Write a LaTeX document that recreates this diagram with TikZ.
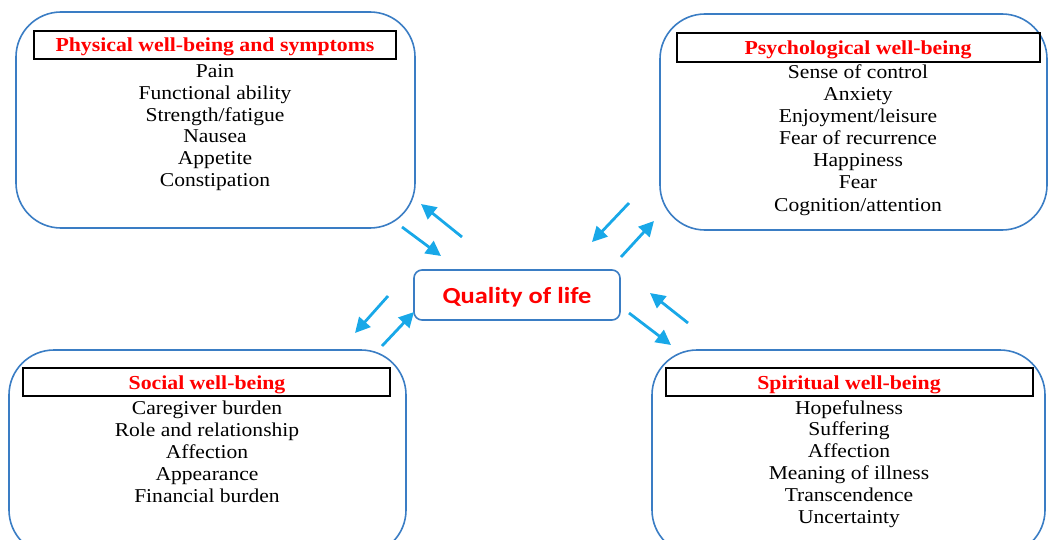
\documentclass[tikz,border=0pt]{standalone}
\usepackage{fontspec}
\setmainfont{Liberation Serif}[FakeStretch=1.1]
\newfontfamily\qfont{Carlito}[FakeStretch=1.15]
\usetikzlibrary{arrows.meta}
\definecolor{boxblue}{RGB}{58,125,196}
\definecolor{arrcyan}{RGB}{24,168,232}
\definecolor{hdred}{RGB}{255,0,0}
\tikzset{
  outerbox/.style={draw=boxblue, line width=1.6pt, rounded corners=45pt, inner sep=0pt},
  hdrbox/.style={draw=black, line width=1.3pt, inner sep=0pt},
  hdrtext/.style={anchor=base, inner sep=0pt, text=hdred, font=\fontsize{19.8}{22}\selectfont\bfseries},
  itemtext/.style={anchor=base, inner sep=0pt, font=\fontsize{19.6}{22}\selectfont},
  qbox/.style={draw=boxblue, line width=1.6pt, rounded corners=8pt, inner sep=0pt},
  qarrow/.style={draw=arrcyan, line width=2.8pt, -{Triangle[length=15pt,width=15pt]}}
}
\begin{document}
\begin{tikzpicture}[x=1pt,y=-1pt]
\useasboundingbox (0,0) rectangle (1048,540);
\clip (0,0) rectangle (1048,540);
% outer boxes
\node[outerbox, minimum width=399pt, minimum height=216pt] (tl) at (215.5,120) {};
\node[outerbox, minimum width=387pt, minimum height=216pt] (tr) at (853.5,122) {};
\node[outerbox, minimum width=397pt, minimum height=205pt] (bl) at (207.5,452.5) {};
\node[outerbox, minimum width=393pt, minimum height=205pt] (br) at (848.5,452.5) {};
% header boxes
\node[hdrbox, minimum width=362pt, minimum height=28pt] (tlh) at (215,45) {};
\node[hdrbox, minimum width=363pt, minimum height=29pt] (trh) at (858.5,47.5) {};
\node[hdrbox, minimum width=367pt, minimum height=28pt] (blh) at (206.5,382) {};
\node[hdrbox, minimum width=367pt, minimum height=28pt] (brh) at (849.5,382) {};
% header texts
\node[hdrtext] (tlt) at (215,52) {Physical well-being and symptoms};
\node[hdrtext] (trt) at (858,55) {Psychological well-being};
\node[hdrtext] (blt) at (207,389) {Social well-being};
\node[hdrtext] (brt) at (849,389) {Spiritual well-being};
% items
\foreach \t [count=\i] in {Pain,Functional ability,Strength/fatigue,Nausea,Appetite,Constipation}
  \node[itemtext] (tli\i) at (215,{77.5+21.8*(\i-1)}) {\t};
\foreach \t [count=\i] in {Sense of control,Anxiety,Enjoyment/leisure,Fear of recurrence,Happiness,Fear,Cognition/attention}
  \node[itemtext] (tri\i) at (858,{79+22*(\i-1)}) {\t};
\foreach \t [count=\i] in {Caregiver burden,Role and relationship,Affection,Appearance,Financial burden}
  \node[itemtext] (bli\i) at (207,{414+22*(\i-1)}) {\t};
\foreach \t [count=\i] in {Hopefulness,Suffering,Affection,Meaning of illness,Transcendence,Uncertainty}
  \node[itemtext] (bri\i) at (849,{414+21.8*(\i-1)}) {\t};
% center
\node[qbox, minimum width=206pt, minimum height=50pt] (q) at (517,295) {};
\node[anchor=base, inner sep=0pt, text=hdred, font=\qfont\fontsize{23}{26}\selectfont\bfseries] (qt) at (517,303) {Quality of life};
% arrow end points
\coordinate (a1s) at (462,237); \coordinate (a1e) at (421,204);
\coordinate (a2s) at (402,227); \coordinate (a2e) at (441,256);
\coordinate (a3s) at (629,203); \coordinate (a3e) at (592,242);
\coordinate (a4s) at (621,257); \coordinate (a4e) at (654,221);
\coordinate (a5s) at (388,296); \coordinate (a5e) at (355,333);
\coordinate (a6s) at (382,346); \coordinate (a6e) at (414,312);
\coordinate (a7s) at (688,323); \coordinate (a7e) at (650,293);
\coordinate (a8s) at (629,313); \coordinate (a8e) at (671,345);
\foreach \k in {1,...,8}
  \draw[qarrow] (a\k s) -- (a\k e);
\end{tikzpicture}
\end{document}
